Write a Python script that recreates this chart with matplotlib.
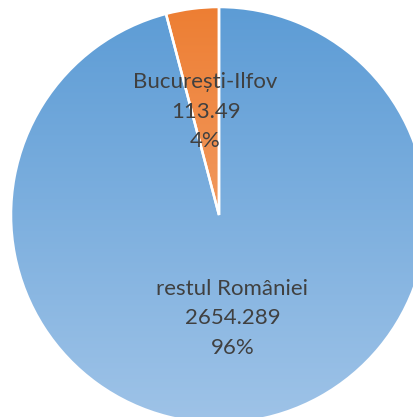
import matplotlib.pyplot as plt
import numpy as np
from matplotlib.colors import LinearSegmentedColormap

# pie data
labels = ['restul României', 'București-Ilfov']
values = [2654.289, 113.49]
value_text = ['2654.289', '113.49']
top_colors = ['#5b9bd5', '#ed7d31']
bottom_colors = ['#a0c4e8', '#f6b48a']

fig = plt.figure(figsize=(4.13, 4.17), dpi=100)
ax = fig.add_axes([0, 0, 1, 1])

idx = iter(range(len(values)))


def fmt(pct):
    i = next(idx)
    return '%s\n%s\n%d%%' % (labels[i], value_text[i], round(pct))


cx, cy, R = 219, 202, 208
wedges, texts, autotexts = ax.pie(values, center=(cx, cy), radius=R, startangle=90,
                                  counterclock=False, explode=[0, 0.014],
                                  autopct=fmt, pctdistance=0.5, frame=True,
                                  wedgeprops=dict(edgecolor='white', linewidth=1.8))

# vertical gradient fill like Excel
grad = np.linspace(0, 1, 256).reshape(-1, 1)
for w, c1, c2 in zip(wedges, top_colors, bottom_colors):
    cmap = LinearSegmentedColormap.from_list('g', [c2, c1])
    w.set_facecolor('none')
    im = ax.imshow(grad, cmap=cmap, origin='lower', aspect='auto',
                   extent=(cx - R - 10, cx + R + 10, cy - R - 10, cy + R + 10), zorder=0.5)
    im.set_clip_path(w)

ax.set_xlim(0, 413)
ax.set_ylim(0, 417)
ax.set_aspect('equal')
ax.axis('off')

for t in autotexts:
    t.set_fontfamily('Lato')
    t.set_fontsize(16)
    t.set_color('#404040')
    t.set_linespacing(1.6)
    t.set_ha('center')
    t.set_va('center')

fig.savefig('out.png', dpi=100)
